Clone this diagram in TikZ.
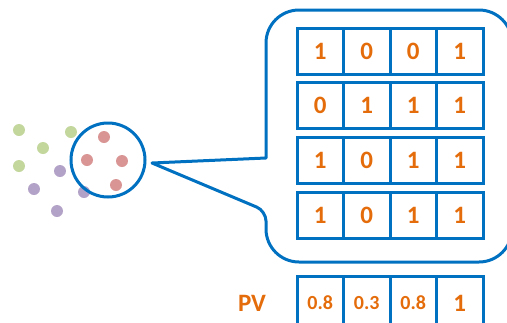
\documentclass[tikz,border=0pt]{standalone}
\usepackage{fontspec}
\setmainfont{Carlito}
\definecolor{frameblue}{HTML}{0070C0}
\definecolor{digitorange}{HTML}{E46C0A}
\definecolor{dotgreen}{HTML}{C3D69B}
\definecolor{dotpurple}{HTML}{B3A2C7}
\definecolor{dotred}{HTML}{D99594}
\tikzset{
  cell/.style={draw=frameblue, line width=3pt, minimum width=46.5pt, minimum height=46pt,
    inner sep=0pt, text=digitorange, font=\fontsize{25}{25}\selectfont\bfseries},
  pvcell/.style={cell, minimum height=54pt},
  small/.style={font=\fontsize{20}{20}\selectfont\bfseries},
}
\begin{document}
\begin{tikzpicture}[x=1pt, y=-1pt]
\useasboundingbox (0,0) rectangle (507,322);
\clip (0,0) rectangle (507,322);

% scattered points
\foreach \px/\py in {19/130, 43/148, 71/132, 19/166}
  \fill[dotgreen] (\px,\py) circle (6);
\foreach \px/\py in {60/171, 34/189, 84/192, 57/211}
  \fill[dotpurple] (\px,\py) circle (6);
\foreach \px/\py in {104/137, 87/160, 122/161, 116/185}
  \fill[dotred] (\px,\py) circle (6);

% magnifier ring
\node[circle, draw=frameblue, line width=3pt, minimum size=74pt, inner sep=0pt] (lens) at (108,160) {};

% speech-bubble frame (runs past the right margin)
\draw[frameblue, line width=3pt, line join=round]
  (266,158) [rounded corners=33] -- (266,10) -- (512,10) -- (512,262) -- (266,262)
  [rounded corners=10] -- (266,211) [sharp corners] -- (152,163) -- cycle;

% bit matrix
\foreach \r/\y/\bits in {1/51/{1,0,0,1}, 2/105.5/{0,1,1,1}, 3/160.5/{1,0,1,1}, 4/215/{1,0,1,1}} {
  \foreach \b [count=\c] in \bits
    \node[cell] (m\r\c) at (273.75+46.5*\c, \y) {\b};
}

% probability vector
\node[text=digitorange, font=\fontsize{25}{25}\selectfont\bfseries] (pv) at (252,303) {PV};
\node[pvcell, small] (p1) at (320.25,303) {0.8};
\node[pvcell, small] (p2) at (366.75,303) {0.3};
\node[pvcell, small] (p3) at (413.25,303) {0.8};
\node[pvcell] (p4) at (459.75,303) {1};
\end{tikzpicture}
\end{document}
